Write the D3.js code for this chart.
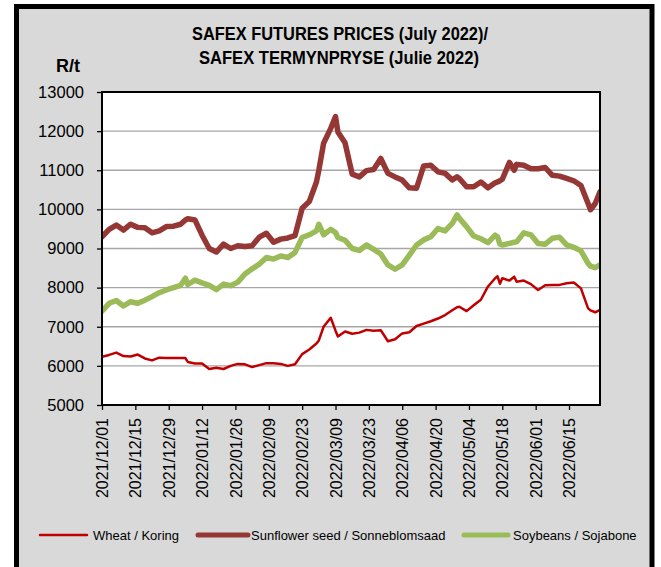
<!DOCTYPE html>
<html>
<head>
<meta charset="utf-8">
<script src="https://cdn.jsdelivr.net/npm/d3@7"></script>
<style>
  html, body { margin: 0; padding: 0; background: #ffffff; }
  svg { display: block; }
</style>
</head>
<body>
<svg id="chart" width="661" height="567"></svg>
<script>
// ---- data ----
const dates = [
  "2021-12-01","2021-12-04","2021-12-07","2021-12-10","2021-12-13","2021-12-16","2021-12-19","2021-12-22","2021-12-25","2021-12-28","2021-12-31",
  "2022-01-03","2022-01-05","2022-01-06","2022-01-09","2022-01-12","2022-01-15","2022-01-18","2022-01-21","2022-01-24","2022-01-27","2022-01-30",
  "2022-02-02","2022-02-05","2022-02-08","2022-02-11","2022-02-14","2022-02-17","2022-02-20","2022-02-23","2022-02-26",
  "2022-03-01","2022-03-02","2022-03-04","2022-03-07","2022-03-09","2022-03-10","2022-03-13","2022-03-16","2022-03-19","2022-03-22","2022-03-25","2022-03-28","2022-03-31",
  "2022-04-03","2022-04-06","2022-04-09","2022-04-12","2022-04-15","2022-04-18","2022-04-21","2022-04-24","2022-04-27","2022-04-29","2022-04-30",
  "2022-05-03","2022-05-06","2022-05-09","2022-05-12","2022-05-15","2022-05-16","2022-05-17","2022-05-18","2022-05-21","2022-05-23","2022-05-24","2022-05-27","2022-05-30",
  "2022-06-02","2022-06-05","2022-06-08","2022-06-11","2022-06-14","2022-06-17","2022-06-20","2022-06-23","2022-06-24","2022-06-26","2022-06-28"
];
const wheat = [
  6230,6280,6340,6250,6240,6290,6190,6140,6210,6200,6200,
  6200,6200,6100,6060,6060,5920,5950,5920,6000,6050,6040,
  5970,6020,6070,6070,6050,6000,6040,6300,6420,
  6570,6650,7000,7230,6900,6750,6880,6820,6850,6920,6900,6910,6630,
  6680,6830,6860,7020,7080,7140,7210,7300,7420,7500,7510,
  7400,7550,7690,8030,8240,8290,8100,8240,8180,8280,8150,8180,8090,
  7940,8060,8070,8070,8110,8130,7980,7470,7420,7370,7430
];
const sunflower = [
  9300,9490,9600,9470,9620,9540,9530,9400,9450,9560,9570,
  9620,9730,9760,9730,9340,9000,8910,9110,9000,9070,9050,
  9070,9290,9390,9160,9240,9270,9330,10030,10200,
  10700,11000,11690,12070,12370,11980,11700,10900,10830,10990,11020,11300,10920,
  10830,10750,10550,10540,11110,11130,10960,10920,10750,10830,10790,
  10580,10580,10700,10550,10680,10700,10730,10770,11200,11000,11150,11130,11040,
  11040,11070,10870,10850,10790,10730,10610,10150,9990,10150,10450
];
const soybeans = [
  7400,7600,7670,7530,7640,7600,7680,7770,7870,7940,8000,
  8060,8240,8080,8190,8120,8060,7950,8090,8050,8140,8350,
  8480,8600,8770,8730,8810,8770,8900,9280,9350,
  9450,9620,9350,9490,9410,9280,9210,9000,8950,9090,8980,8860,8580,
  8470,8580,8830,9090,9220,9300,9510,9450,9640,9860,9770,
  9560,9320,9250,9150,9340,9300,9110,9090,9130,9160,9170,9400,9350,
  9130,9110,9260,9290,9090,9030,8940,8620,8550,8510,8580
];
const tickLabels = ["2021/12/01","2021/12/15","2021/12/29","2022/01/12","2022/01/26","2022/02/09","2022/02/23",
  "2022/03/09","2022/03/23","2022/04/06","2022/04/20","2022/05/04","2022/05/18","2022/06/01","2022/06/15"];
const yTicks = [5000,6000,7000,8000,9000,10000,11000,12000,13000];
const seriesNames = ["Wheat / Koring","Sunflower seed / Sonneblomsaad","Soybeans / Sojabone"];
const titleLines = ["SAFEX FUTURES PRICES (July 2022)/","SAFEX TERMYNPRYSE (Julie 2022)"];

// ---- layout ----
const svg = d3.select("#chart");
const L = 102, R = 600, T = 92, B = 405;
const parse = d3.timeParse("%Y-%m-%d");
const parseTick = d3.timeParse("%Y/%m/%d");
const xd = dates.map(parse);

const x = d3.scaleTime().domain([parse("2021-12-01"), parse("2022-06-28")]).range([L, R]);
const y = d3.scaleLinear().domain([5000, 13000]).range([B, T]);

// background + outer frame
svg.append("rect").attr("x",0).attr("y",0).attr("width",661).attr("height",567).attr("fill","#ffffff");
svg.append("rect").attr("x",16.5).attr("y",6.5).attr("width",635.5).attr("height",600)
  .attr("fill","#d9d9d9").attr("stroke","#000").attr("stroke-width",5);

// plot area
svg.append("rect").attr("x",L).attr("y",T).attr("width",R-L).attr("height",B-T).attr("fill","#fff");

// gridlines
svg.append("g").selectAll("line").data(yTicks.filter(v => v > 5000 && v < 13000)).join("line")
  .attr("x1",L).attr("x2",R).attr("y1",d=>y(d)).attr("y2",d=>y(d))
  .attr("stroke","#a6a6a6").attr("stroke-width",1.3);

// series
const lineGen = arr => d3.line().x((d,i)=>x(xd[i])).y(d=>y(d))(arr);
const series = [
  {vals: wheat, color: "#c00000", w: 2.5},
  {vals: sunflower, color: "#953735", w: 5.5},
  {vals: soybeans, color: "#9bbb59", w: 5.5}
];
svg.append("clipPath").attr("id","pc").append("rect")
  .attr("x",L).attr("y",T).attr("width",R-L+1).attr("height",B-T);
series.forEach(s => {
  svg.append("path").attr("d", lineGen(s.vals)).attr("fill","none")
    .attr("stroke", s.color).attr("stroke-width", s.w)
    .attr("stroke-linejoin","round").attr("stroke-linecap","round")
    .attr("clip-path","url(#pc)");
});

// plot border
svg.append("rect").attr("x",L).attr("y",T).attr("width",R-L).attr("height",B-T)
  .attr("fill","none").attr("stroke","#000").attr("stroke-width",2);

// y axis
const yAxis = d3.axisLeft(y).tickValues(yTicks).tickFormat(d3.format("d")).tickSize(5).tickPadding(13);
const gy = svg.append("g").attr("transform",`translate(${L},0)`).call(yAxis);
gy.select(".domain").remove();
gy.selectAll(".tick line").attr("stroke","#000").attr("stroke-width",1.3);
gy.selectAll(".tick text").attr("font-family","'Liberation Sans', Arial, sans-serif")
  .attr("font-size",16.5).attr("fill","#000");

// x axis
const xAxis = d3.axisBottom(x).tickValues(tickLabels.map(parseTick)).tickFormat(d3.timeFormat("%Y/%m/%d")).tickSize(5);
const gx = svg.append("g").attr("transform",`translate(0,${B})`).call(xAxis);
gx.select(".domain").remove();
gx.selectAll(".tick line").attr("stroke","#000").attr("stroke-width",1.3);
gx.selectAll(".tick text")
  .attr("font-family","'Liberation Sans', Arial, sans-serif").attr("font-size",16).attr("fill","#000")
  .attr("text-anchor","end").attr("transform","rotate(-90)")
  .attr("x",-13).attr("y",0).attr("dy","0.35em");

// title
svg.append("text").attr("x",340).attr("y",40).attr("text-anchor","middle")
  .attr("font-family","'Liberation Sans Narrow', 'Arial Narrow', sans-serif").attr("font-weight","bold")
  .attr("font-size",17.5).attr("textLength",296).attr("lengthAdjust","spacingAndGlyphs").text(titleLines[0]);
svg.append("text").attr("x",339).attr("y",64).attr("text-anchor","middle")
  .attr("font-family","'Liberation Sans Narrow', 'Arial Narrow', sans-serif").attr("font-weight","bold")
  .attr("font-size",17.5).attr("textLength",280).attr("lengthAdjust","spacingAndGlyphs").text(titleLines[1]);
svg.append("text").attr("x",68).attr("y",72).attr("text-anchor","middle")
  .attr("font-family","'Liberation Sans Narrow', 'Arial Narrow', sans-serif").attr("font-weight","bold")
  .attr("font-size",18).text("R/t");

// legend
const legendItems = [
  {x1:40, x2:87, tx:93, ...series[0]},
  {x1:198, x2:248, tx:251, ...series[1]},
  {x1:464, x2:508, tx:513, ...series[2]}
];
legendItems.forEach((l,i) => {
  svg.append("line").attr("x1",l.x1).attr("x2",l.x2).attr("y1",535).attr("y2",535)
    .attr("stroke",l.color).attr("stroke-width", l.w === 2.5 ? 2.5 : 5).attr("stroke-linecap","round");
  svg.append("text").attr("x",l.tx).attr("y",540)
    .attr("font-family","'Liberation Sans Narrow', 'Arial Narrow', 'Liberation Sans', sans-serif")
    .attr("font-size",13)
    .text(seriesNames[i]);
});
</script>
</body>
</html>
